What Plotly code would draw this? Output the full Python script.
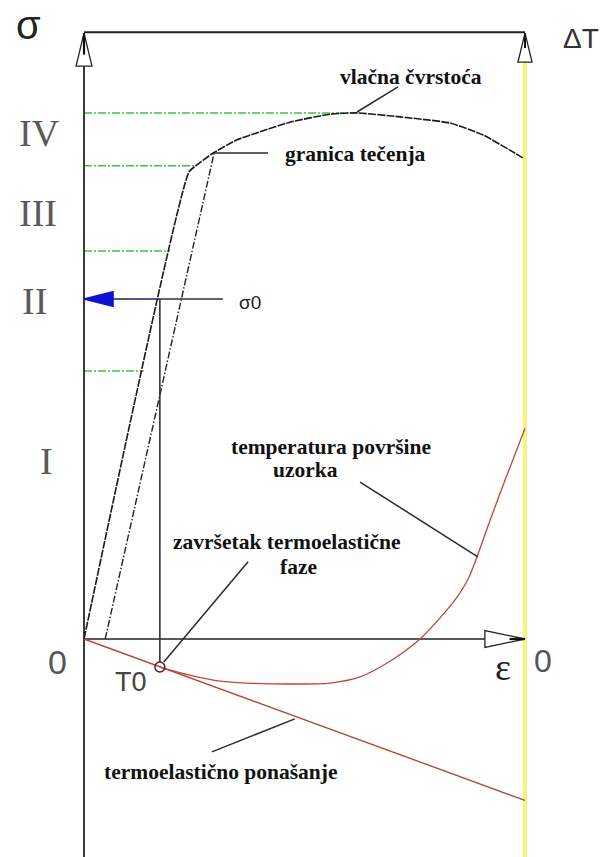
import plotly.graph_objects as go

# ---------------- data (ε in strain units 0..100, σ / ΔT in stress units) ----------------
# stress–strain curve σ(ε)
eps_curve = [0, 23.8, 25.6, 29.3, 34.7, 39.9, 46.7, 55.8, 61.9, 71.7, 83.0, 90.5, 99.5]
sig_curve = [0, 105.9, 107.5, 110.2, 113.2, 115.0, 117.2, 119.0, 119.3, 118.4, 117.0, 114.3, 109.1]

# parallel offset line (yield construction)
eps_offset = [4.8, 29.5]
sig_offset = [0, 110.2]

# zone boundaries (green dash-dot) and zone labels
zone_levels = [119.3, 107.3, 88.0, 60.8]
zone_ends = [61.9, 25.6, 19.5, 13.6]
zone_labels = ["IV", "III", "II", "I"]
zone_label_x = [-10.0, -10.4, -11.3, -8.4]
zone_label_y = [114.7, 96.6, 76.6, 40.4]

# σ0 / T0 point
eps0 = 17.2
sigma0 = 77.1
T0 = -6.35

# surface temperature curve ΔT(ε)
eps_temp = [17.2, 24.0, 29.3, 37.0, 46.7, 55.8, 62.6, 67.1, 71.7, 76.2, 82.3, 84.8, 87.1, 89.1, 92.1, 95.5, 100.0]
dT_temp = [-6.35, -8.2, -9.3, -10.0, -10.2, -10.0, -8.6, -6.4, -3.5, 0.0, 6.6, 9.8, 13.6, 18.6, 27.0, 36.1, 47.8]

# thermoelastic behaviour (linear)
eps_te = [0, 100]
dT_te = [0, -36.6]

# frame
eps_max = 100
sig_top = 137.4

# leader lines: (x0, y0, x1, y1)
leaders = {
    "vlačna čvrstoća": (61.9, 119.5, 71.2, 125.2),
    "granica tečenja": (29.5, 110.2, 41.7, 110.2),
    "temperatura": (62.6, 35.6, 89.3, 18.6),
    "završetak": (18.1, -5.2, 37.2, 17.5),
    "termoelastično": (29.0, -25.6, 47.8, -18.1),
}

XR = [-19.05, 117.23]
YR = [-49.43, 144.90]

fig = go.Figure()

def line(x, y, color, width=1.5, dash="solid", shape="linear", smooth=None):
    ld = dict(color=color, width=width, dash=dash, shape=shape)
    if smooth is not None:
        ld["smoothing"] = smooth
    fig.add_trace(go.Scatter(x=x, y=y, mode="lines", hoverinfo="skip", line=ld))

# yellow ΔT axis
line([eps_max, eps_max], [130.8, YR[0]], "#f6f57a", 4)

# green zone lines
for lv, xe in zip(zone_levels, zone_ends):
    line([0, xe], [lv, lv], "#3fc43f", 1.5, "8px,2px,2px,2px")

# frame: left axis, top line, ε axis
line([0, 0], [sig_top, YR[0]], "#3a3a3a", 2)
line([0, eps_max], [sig_top + 0.2, sig_top + 0.2], "#222222", 2)
line([0, eps_max], [0, 0], "#222222", 1.6)

# stress-strain curve and offset line
line(eps_curve, sig_curve, "#1a1a1a", 1.6, "8px,1.2px", "spline", 0.5)
line(eps_offset, sig_offset, "#222222", 1.4, "7px,2px,1.5px,2px")

# σ0 line and vertical projection
line([0, eps0], [sigma0, sigma0], "#1c1c6e", 1.6)
line([eps0, 31.5], [sigma0, sigma0], "#333333", 1.6)
line([eps0, eps0], [sigma0, T0 + 1.1], "#333333", 1.6)

# thermoelastic line and temperature curve
line(eps_te, dT_te, "#b5483a", 1.4)
line(eps_temp, dT_temp, "#c0453a", 1.3, "solid", "spline", 0.9)

# leaders
for k, (x0, y0, x1, y1) in leaders.items():
    line([x0, x1], [y0, y1], "#2a2a2a", 1.5)

# arrowheads (open triangles)
def tri(xs, ys, fill, lc):
    fig.add_trace(go.Scatter(x=xs, y=ys, mode="lines", fill="toself", fillcolor=fill,
                             hoverinfo="skip", line=dict(color=lc, width=1.3)))

tri([0, -1.8, 1.8, 0], [sig_top, 129.9, 129.9, sig_top], "white", "#222222")
line([0, 0], [sig_top, 132.5], "#111111", 2.2)
tri([eps_max, eps_max - 1.6, eps_max + 1.6, eps_max], [sig_top, 130.8, 130.8, sig_top], "white", "#222222")
line([eps_max, eps_max], [sig_top, 134], "#111111", 2)
tri([eps_max, 90.9, 90.9, eps_max], [0, 1.9, -1.9, 0], "white", "#222222")
line([eps_max, 96.5], [0, 0], "#111111", 2.2)
# blue arrow at σ0
tri([0, 6.6, 6.6, 0], [sigma0, sigma0 + 1.7, sigma0 - 1.7, sigma0], "#1010d0", "#1010d0")

# T0 marker
fig.add_trace(go.Scatter(x=[eps0], y=[T0], mode="markers", hoverinfo="skip",
                         marker=dict(symbol="circle-open", size=10, color="#5a1a1a",
                                     line=dict(width=1.5))))

# axis symbols as text marks
def sym(x, y, s, size, family, color):
    fig.add_trace(go.Scatter(x=[x], y=[y], mode="text", text=[s], textposition="middle center",
                             hoverinfo="skip", cliponaxis=False,
                             textfont=dict(size=size, family=family, color=color)))

sym(-12.6, 138.3, "σ", 40, "Liberation Sans, Arial", "#222222")
sym(112.7, 135.6, "ΔT", 28, "Liberation Sans, Arial", "#333333")

ann = []
def txt(x, y, s, size, family="Liberation Serif", color="#111111", xanchor="center", bold=False):
    if bold:
        s = "<b>" + s + "</b>"
    ann.append(dict(x=x, y=y, text=s, showarrow=False, xanchor=xanchor, yanchor="middle",
                    font=dict(size=size, family=family, color=color)))

SANS = "Liberation Sans Narrow, Liberation Sans, Arial"
for lab, xv, yv in zip(zone_labels, zone_label_x, zone_label_y):
    txt(xv, yv, lab, 38, "Liberation Serif", "#5a5a5a")
txt(-5.9, -5.2, "0", 34, SANS, "#555555")
txt(10.7, -9.75, "T0", 27, SANS, "#444444")
txt(95.0, -6.35, "ε", 38, "Liberation Serif", "#222222")
txt(104.1, -5.0, "0", 32, SANS, "#555555")
txt(37.6, 76.4, "σ0", 19, "Liberation Sans, Arial", "#222222")
txt(74.1, 127.4, "vlačna čvrstoća", 21.5, bold=True)
txt(45.1, 109.9, "granica tečenja", 21.5, xanchor="left", bold=True)
txt(56.0, 43.5, "temperatura površine", 21.5, bold=True)
txt(50.3, 38.3, "uzorka", 21.5, bold=True)
txt(46.0, 22.0, "završetak termoelastične", 21.5, bold=True)
txt(48.7, 16.3, "faze", 21.5, bold=True)
txt(31.0, -30.2, "termoelastično ponašanje", 21.5, bold=True)

fig.update_layout(
    width=601, height=857, margin=dict(l=0, r=0, t=0, b=0),
    paper_bgcolor="white", plot_bgcolor="white", showlegend=False,
    xaxis=dict(range=XR, visible=False, showgrid=False, zeroline=False, fixedrange=True),
    yaxis=dict(range=YR, visible=False, showgrid=False, zeroline=False, fixedrange=True),
    annotations=ann,
)
# remove the default 8px page margin so the figure fills the window exactly
fig.write_html("out.html", config={"displayModeBar": False, "staticPlot": True},
               post_script="document.body.style.margin='0';")
